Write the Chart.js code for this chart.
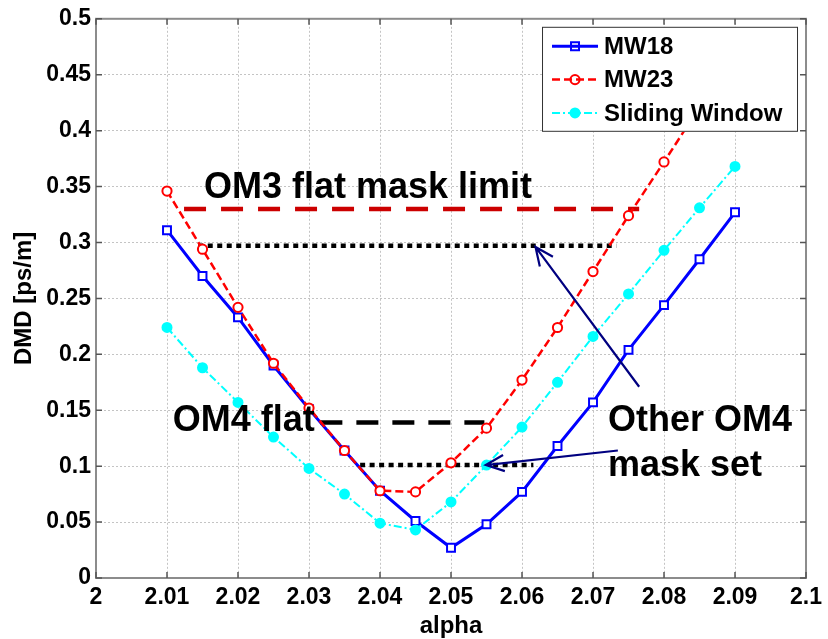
<!DOCTYPE html>
<html>
<head>
<meta charset="utf-8">
<title>DMD vs alpha</title>
<script src="https://cdn.jsdelivr.net/npm/chart.js@4.4.1/dist/chart.umd.min.js"></script>
<style>
  html, body { margin: 0; padding: 0; background: #fff; }
  #wrap { width: 828px; height: 639px; }
</style>
</head>
<body>
<div id="wrap"><canvas id="dmdChart"></canvas></div>
<script>
// data
const alphaValues = [2.01, 2.015, 2.02, 2.025, 2.03, 2.035, 2.04, 2.045, 2.05,
                     2.055, 2.06, 2.065, 2.07, 2.075, 2.08, 2.085, 2.09];
const mw18 = [0.311, 0.270, 0.233, 0.190, 0.151, 0.114, 0.078, 0.051, 0.027,
              0.048, 0.077, 0.118, 0.157, 0.204, 0.244, 0.285, 0.327];
const mw23 = [0.346, 0.294, 0.242, 0.192, 0.152, 0.114, 0.078, 0.077, 0.103,
              0.134, 0.177, 0.224, 0.274, 0.324, 0.372, 0.421, 0.470];
const slidingWindow = [0.224, 0.188, 0.157, 0.126, 0.098, 0.075, 0.049, 0.043, 0.068,
                       0.101, 0.135, 0.175, 0.216, 0.254, 0.293, 0.331, 0.368];

const xTicks = [2, 2.01, 2.02, 2.03, 2.04, 2.05, 2.06, 2.07, 2.08, 2.09, 2.1];
const yTicks = [0, 0.05, 0.1, 0.15, 0.2, 0.25, 0.3, 0.35, 0.4, 0.45, 0.5];

// mask lines: [start, end] as [alpha, DMD]
const om3FlatLimit = [[2.0124, 0.330], [2.0765, 0.330]];
const om3OtherLimit = [[2.0144, 0.297], [2.0733, 0.297]];
const om4FlatLimit = [[2.0316, 0.139], [2.0547, 0.139]];
const om4OtherLimit = [[2.0372, 0.101], [2.0616, 0.101]];

// arrows: [tail, tip]
const arrowUpper = [[2.0765, 0.171], [2.0619, 0.296]];
const arrowLower = [[2.0735, 0.114], [2.0549, 0.101]];

const noteTexts = ['OM3 flat mask limit', 'OM4 flat', 'Other OM4', 'mask set'];
const notePositions = [[2.0152, 0.340], [2.0108, 0.131], [2.0721, 0.131], [2.0721, 0.0915]];

const FONT = '"Liberation Sans", Arial, Helvetica, sans-serif';

const toPoints = (xs, ys) => xs.map((x, i) => ({ x: x, y: ys[i] }));
const pairPoints = pair => pair.map(p => ({ x: p[0], y: p[1] }));

const seriesStyles = [
    { label: 'MW18', color: '#0000ff', width: 3, dash: [], marker: 'rect', fill: false },
    { label: 'MW23', color: '#ff0000', width: 2.5, dash: [8, 4], marker: 'circle', fill: false },
    { label: 'Sliding Window', color: '#00ffff', width: 2, dash: [8, 3, 2, 3], marker: 'dot', fill: true }
];

function maskDataset(pair, color, dash) {
    return {
        label: '',
        data: pairPoints(pair),
        borderColor: color,
        borderWidth: 4.5,
        borderDash: dash,
        borderCapStyle: 'butt',
        pointRadius: 0,
        order: 5
    };
}

// frame with inward ticks, like a MATLAB axes box
const framePlugin = {
    id: 'frame',
    beforeDatasetsDraw(chart) {
        const { ctx, chartArea: a, scales } = chart;
        ctx.save();
        ctx.strokeStyle = '#8c8c8c';
        ctx.lineWidth = 2;
        ctx.strokeRect(a.left, a.top, a.right - a.left, a.bottom - a.top);
        ctx.strokeStyle = '#555';
        ctx.lineWidth = 1.5;
        ctx.beginPath();
        xTicks.forEach(v => {
            const px = scales.x.getPixelForValue(v);
            ctx.moveTo(px, a.bottom); ctx.lineTo(px, a.bottom - 6);
            ctx.moveTo(px, a.top); ctx.lineTo(px, a.top + 6);
        });
        yTicks.forEach(v => {
            const py = scales.y.getPixelForValue(v);
            ctx.moveTo(a.left, py); ctx.lineTo(a.left + 6, py);
            ctx.moveTo(a.right, py); ctx.lineTo(a.right - 6, py);
        });
        ctx.stroke();
        ctx.restore();
    }
};

function drawArrow(ctx, chart, arrow) {
    const x = chart.scales.x, y = chart.scales.y;
    const x0 = x.getPixelForValue(arrow[0][0]), y0 = y.getPixelForValue(arrow[0][1]);
    const x1 = x.getPixelForValue(arrow[1][0]), y1 = y.getPixelForValue(arrow[1][1]);
    const ang = Math.atan2(y1 - y0, x1 - x0);
    const head = 20, spread = 0.42;
    ctx.beginPath();
    ctx.moveTo(x0, y0);
    ctx.lineTo(x1, y1);
    ctx.moveTo(x1 - head * Math.cos(ang - spread), y1 - head * Math.sin(ang - spread));
    ctx.lineTo(x1, y1);
    ctx.lineTo(x1 - head * Math.cos(ang + spread), y1 - head * Math.sin(ang + spread));
    ctx.stroke();
}

const notesPlugin = {
    id: 'notes',
    afterDatasetsDraw(chart) {
        const { ctx, scales } = chart;
        ctx.save();
        ctx.strokeStyle = '#000080';
        ctx.lineWidth = 2.2;
        drawArrow(ctx, chart, arrowUpper);
        drawArrow(ctx, chart, arrowLower);
        ctx.fillStyle = '#000';
        ctx.font = 'bold 36px ' + FONT;
        ctx.textAlign = 'left';
        ctx.textBaseline = 'alphabetic';
        noteTexts.forEach((t, i) => {
            ctx.fillText(t, scales.x.getPixelForValue(notePositions[i][0]),
                scales.y.getPixelForValue(notePositions[i][1]));
        });
        ctx.restore();
    }
};

function drawMarker(ctx, style, x, y) {
    ctx.save();
    ctx.strokeStyle = style.color;
    ctx.fillStyle = style.fill ? style.color : '#fff';
    ctx.lineWidth = 2;
    ctx.setLineDash([]);
    ctx.beginPath();
    if (style.marker === 'rect') {
        ctx.rect(x - 4, y - 4, 8, 8);
    } else if (style.marker === 'circle') {
        ctx.arc(x, y, 4.6, 0, Math.PI * 2);
    } else {
        ctx.arc(x, y, 4.5, 0, Math.PI * 2);
    }
    if (style.fill) ctx.fill();
    ctx.stroke();
    ctx.restore();
}

// legend box inside the top right corner, drawn over the lines
const legendPlugin = {
    id: 'boxLegend',
    afterDatasetsDraw(chart) {
        const { ctx, chartArea: a } = chart;
        const w = 256, h = 105;
        const bx = a.right - 8 - w, by = a.top + 8;
        ctx.save();
        ctx.fillStyle = '#fff';
        ctx.fillRect(bx, by, w, h);
        ctx.strokeStyle = '#333';
        ctx.lineWidth = 1;
        ctx.strokeRect(bx + 0.5, by + 0.5, w - 1, h - 1);
        ctx.font = 'bold 24px ' + FONT;
        ctx.textBaseline = 'middle';
        seriesStyles.forEach((s, i) => {
            const cy = by + 19.5 + i * 33.3;
            ctx.strokeStyle = s.color;
            ctx.lineWidth = s.width;
            ctx.setLineDash(s.dash);
            ctx.beginPath();
            ctx.moveTo(bx + 10, cy);
            ctx.lineTo(bx + 56, cy);
            ctx.stroke();
            drawMarker(ctx, s, bx + 33, cy);
            ctx.fillStyle = '#000';
            ctx.fillText(s.label, bx + 62, cy + 1);
        });
        ctx.restore();
    }
};

const seriesValues = [mw18, mw23, slidingWindow];

// later series sit on top, as in the original plot
const datasets = seriesStyles.map((s, i) => ({
    label: s.label,
    data: toPoints(alphaValues, seriesValues[i]),
    borderColor: s.color,
    borderWidth: s.width,
    borderDash: s.dash,
    pointStyle: s.marker === 'rect' ? 'rect' : 'circle',
    pointRadius: s.marker === 'rect' ? 5.6 : (s.marker === 'circle' ? 4.6 : 4.5),
    pointBorderWidth: 2,
    pointBorderColor: s.color,
    pointBackgroundColor: s.fill ? s.color : '#fff',
    order: 2 - i
}));

datasets.push(maskDataset(om3FlatLimit, '#cc0000', [22, 15]));
datasets.push(maskDataset(om3OtherLimit, '#000', [5, 4.5]));
datasets.push(maskDataset(om4FlatLimit, '#000', [22, 14]));
datasets.push(maskDataset(om4OtherLimit, '#000', [5, 4.5]));

const tickFont = { family: FONT, size: 23, weight: 'bold' };
const fmt = v => String(+Number(v).toFixed(3));

new Chart(document.getElementById('dmdChart'), {
    type: 'line',
    data: { datasets: datasets },
    options: {
        responsive: true,
        maintainAspectRatio: false,
        animation: false,
        devicePixelRatio: 1,
        layout: { padding: { top: 15, right: 17, left: 0, bottom: 0 } },
        plugins: {
            legend: { display: false },
            tooltip: { enabled: false }
        },
        scales: {
            x: {
                type: 'linear',
                min: 2,
                max: 2.1,
                afterBuildTicks: s => { s.ticks = xTicks.map(v => ({ value: v })); },
                afterFit: s => { s.height = 61; },
                ticks: { font: tickFont, color: '#000', padding: 6, maxRotation: 0, autoSkip: false, callback: fmt },
                grid: { color: '#c4c4c4', lineWidth: 1, drawTicks: false },
                border: { display: false, dash: [2, 2] },
                title: {
                    display: true,
                    text: 'alpha',
                    color: '#000',
                    font: { family: FONT, size: 24, weight: 'bold', lineHeight: 1 },
                    padding: { top: 0, bottom: 1 }
                }
            },
            y: {
                type: 'linear',
                min: 0,
                max: 0.5,
                afterBuildTicks: s => { s.ticks = yTicks.map(v => ({ value: v })); },
                afterFit: s => { s.width = 96; },
                ticks: { font: tickFont, color: '#000', padding: 5, autoSkip: false, callback: fmt },
                grid: { color: '#c4c4c4', lineWidth: 1, drawTicks: false },
                border: { display: false, dash: [2, 2] },
                title: {
                    display: true,
                    text: 'DMD [ps/m]',
                    color: '#000',
                    font: { family: FONT, size: 24, weight: 'bold', lineHeight: 1 },
                    padding: { top: 12, bottom: 0 }
                }
            }
        }
    },
    plugins: [framePlugin, notesPlugin, legendPlugin]
});
</script>
</body>
</html>
